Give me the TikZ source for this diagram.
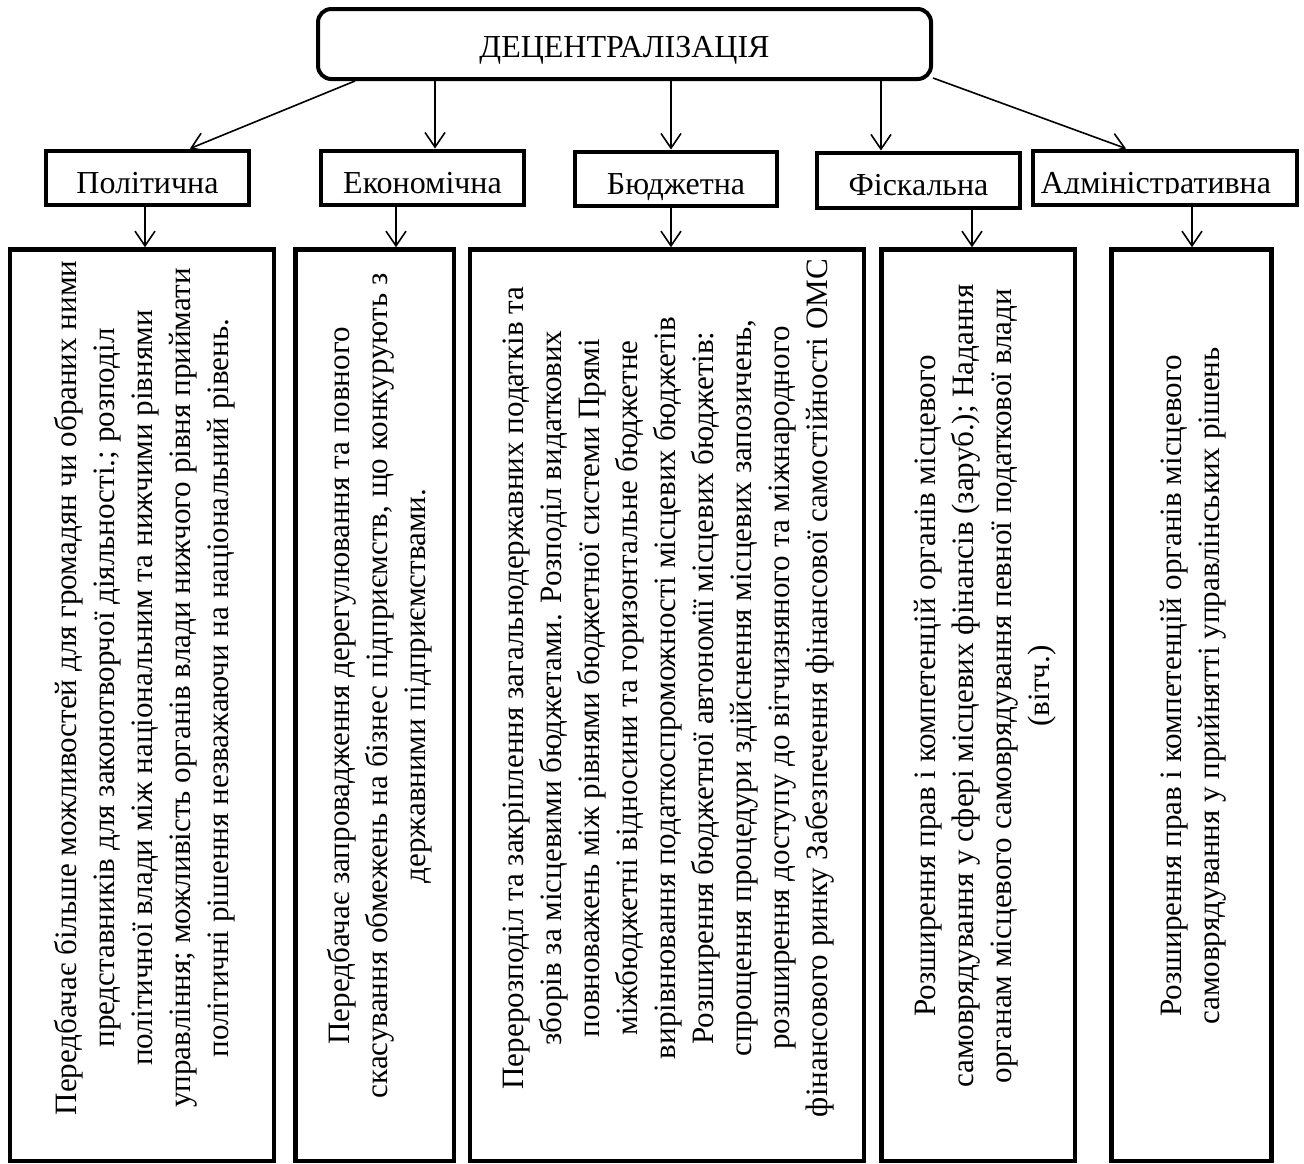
\documentclass[tikz,border=0pt]{standalone}
\usepackage{fontspec}
\setmainfont{Liberation Serif}
\usetikzlibrary{arrows.meta}
\begin{document}
\begin{tikzpicture}[x=0.75pt,y=-0.75pt,
  arr/.style={-{Straight Barb[length=11pt,width=15pt,line width=1.2pt]}, line width=1.2pt},
  sz/.style 2 args={minimum width=#1*0.75pt, minimum height=#2*0.75pt},
  topbox/.style={draw, line width=3pt, rounded corners=10pt, inner sep=0pt},
  catbox/.style={draw, line width=3.7pt, inner sep=0pt},
  descbox/.style={draw, line width=3.4pt, inner sep=0pt},
  lbl/.style={font=\fontsize{24}{28}\selectfont, anchor=base, inner sep=0pt},
  dtext/.style={font=\fontsize{23.3}{28.5}\selectfont, align=center, rotate=90, inner sep=0pt}
]
\useasboundingbox (0,0) rectangle (1304,1164);

% top
\node[topbox, sz={613}{70}] (top) at (624.5,44) {};
\node[lbl] (toptxt) at (624.5,57) {ДЕЦЕНТРАЛІЗАЦІЯ};

% category boxes
\node[catbox, sz={203}{54}] (pol) at (147.5,178) {};
\node[catbox, sz={203}{54}] (eco) at (422.5,178) {};
\node[catbox, sz={202}{54}] (bud) at (676,179) {};
\node[catbox, sz={203}{55}] (fis) at (918.5,180.5) {};
\node[catbox, sz={264}{54}] (adm) at (1165,178) {};

\node[lbl] (poltxt) at (147.5,193) {Політична};
\node[lbl] (ecotxt) at (422.5,193) {Економічна};
\node[lbl] (budtxt) at (676,194) {Бюджетна};
\node[lbl] (fistxt) at (918.5,195) {Фіскальна};
\begin{scope}
\clip (1040,160) rectangle (1290,193);
\node[lbl] (admtxt) at (1156,193) {Адміністративна};
\end{scope}

% description boxes
\node[descbox, sz={264}{911.5}] (d1) at (142,705.25) {};
\node[descbox, sz={158.5}{911.5}] (d2) at (374.75,705.25) {};
\node[descbox, sz={394}{911.5}] (d3) at (667,705.25) {};
\node[descbox, sz={193.5}{911.5}] (d4) at (978.25,705.25) {};
\node[descbox, sz={160}{911.5}] (d5) at (1191.5,705.25) {};

\node[dtext] (t1) at (145,688) {Передбачає більше можливостей для громадян чи обраних ними\\
представників для законотворчої діяльності.; розподіл\\
політичної влади між національним та нижчими рівнями\\
управління; можливість органів влади нижчого рівня приймати\\
політичні рішення незважаючи на національний рівень.};

\node[dtext] (t2) at (380,686) {Передбачає запровадження дерегулювання та повного\\
скасування обмежень на бізнес підприємств, що конкурують з\\
державними підприємствами.};

\node[dtext] (t3) at (669,688) {Перерозподіл та закріплення загальнодержавних податків та\\
зборів за місцевими бюджетами. Розподіл видаткових\\
повноважень між рівнями бюджетної системи Прямі\\
міжбюджетні відносини та горизонтальне бюджетне\\
вирівнювання податкоспроможності місцевих бюджетів\\
Розширення бюджетної автономії місцевих бюджетів:\\
спрощення процедури здійснення місцевих запозичень,\\
розширення доступу до вітчизняного та міжнародного\\
фінансового ринку Забезпечення фінансової самостійності ОМС};

\node[dtext] (t4) at (985,686) {Розширення прав і компетенцій органів місцевого\\
самоврядування у сфері місцевих фінансів (заруб.); Надання\\
органам місцевого самоврядування певної податкової влади\\
(вітч.)};

\node[dtext] (t5) at (1193,686) {Розширення прав і компетенцій органів місцевого\\
самоврядування у прийнятті управлінських рішень};

% connectors from top
\coordinate (ae) at ([xshift=12.5*0.75pt]eco.north);
\coordinate (ab) at ([xshift=-5*0.75pt]bud.north);
\coordinate (af) at ([xshift=-37.5*0.75pt]fis.north);
\draw[arr] ([xshift=39*0.75pt]top.south west) -- ([xshift=42.5*0.75pt]pol.north);
\draw[arr] (ae |- top.south) -- (ae);
\draw[arr] (ab |- top.south) -- (ab);
\draw[arr] (af |- top.south) -- (af);
\draw[arr] ([yshift=2.25pt]top.south east) -- ([xshift=-39*0.75pt]adm.north);

% connectors to descriptions
\coordinate (b1) at ([xshift=-2.5*0.75pt]pol.south);
\coordinate (b2) at ([xshift=-26.5*0.75pt]eco.south);
\coordinate (b3) at ([xshift=-5*0.75pt]bud.south);
\coordinate (b4) at ([xshift=53.5*0.75pt]fis.south);
\coordinate (b5) at ([xshift=27*0.75pt]adm.south);
\draw[arr] (b1) -- (b1 |- d1.north);
\draw[arr] (b2) -- (b2 |- d2.north);
\draw[arr] (b3) -- (b3 |- d3.north);
\draw[arr] (b4) -- (b4 |- d4.north);
\draw[arr] (b5) -- (b5 |- d5.north);
\end{tikzpicture}
\end{document}
